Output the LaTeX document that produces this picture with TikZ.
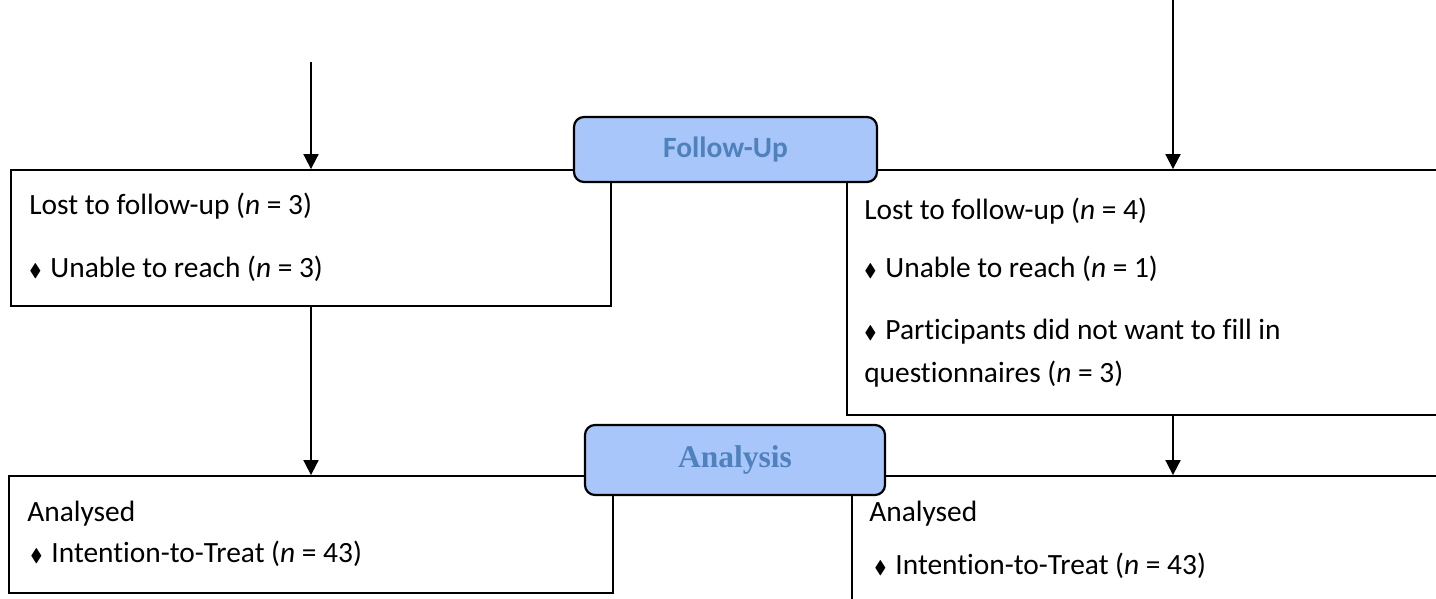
\documentclass[tikz,border=0pt]{standalone}
\usepackage{fontspec}
\usepackage{amssymb}
\setmainfont[Ligatures={NoCommon}]{Carlito}
\newfontfamily\stageserif{Liberation Serif}
\usetikzlibrary{arrows.meta, positioning}

\definecolor{stagefill}{RGB}{168,198,250}
\definecolor{stagetext}{RGB}{79,129,189}
\newcommand{\dmd}{\raisebox{0.5pt}{\scalebox{0.62}{$\blacklozenge$}}\hspace{9pt}}

\tikzset{
    box/.style={draw, line width=1.8pt, rectangle, inner sep=0pt},
    stage/.style={draw, line width=2.2pt, rounded corners=10pt, fill=stagefill, inner sep=0pt, text=stagetext},
    txt/.style={anchor=base west, inner sep=0pt, font=\fontsize{29.4}{35}\selectfont},
    arr/.style={-{Triangle[width=15pt,length=15pt]}, line width=1.8pt}
}

\begin{document}
\begin{tikzpicture}[x=1pt, y=-1pt]
    \clip (0,0) rectangle (1436,599);

    % boxes
    \node[box, minimum width=600pt, minimum height=136pt] (lostL) at (311,238) {};
    \node[box, minimum width=652pt, minimum height=245pt] (lostR) at (1173,292.5) {};
    \node[box, minimum width=604pt, minimum height=117pt] (anaL) at (311,534.5) {};
    \node[box, minimum width=642pt, minimum height=164pt] (anaR) at (1173,558) {};

    % texts
    \node[txt] (lostLa) at ([shift={(19,45)}]lostL.north west) {Lost to follow-up (\textit{n} = 3)};
    \node[txt] (lostLb) at ([shift={(19,108)}]lostL.north west) {\dmd Unable to reach (\textit{n} = 3)};
    \node[txt] (lostRa) at ([shift={(18,50)}]lostR.north west) {Lost to follow-up (\textit{n} = 4)};
    \node[txt] (lostRb) at ([shift={(18,108)}]lostR.north west) {\dmd Unable to reach (\textit{n} = 1)};
    \node[txt] (lostRc) at ([shift={(18,170)}]lostR.north west) {\dmd Participants did not want to fill in};
    \node[txt] (lostRd) at ([shift={(18,213)}]lostR.north west) {questionnaires (\textit{n} = 3)};
    \node[txt] (anaLa) at ([shift={(19,46)}]anaL.north west) {Analysed};
    \node[txt] (anaLb) at ([shift={(22,87)}]anaL.north west) {\dmd Intention-to-Treat (\textit{n} = 43)};
    \node[txt] (anaRa) at ([shift={(18,46)}]anaR.north west) {Analysed};
    \node[txt] (anaRb) at ([shift={(23,99)}]anaR.north west) {\dmd Intention-to-Treat (\textit{n} = 43)};

    % stages
    \node[stage, minimum width=303pt, minimum height=65pt, font=\fontsize{29.4}{35}\selectfont\bfseries] (follow) at (725.5,149.5) {Follow-Up};
    \node[stage, minimum width=300pt, minimum height=70pt, font=\fontsize{31.5}{37}\stageserif\bfseries] (analysis) at (735,460) {Analysis};

    % arrows
    \coordinate (topL) at (311,62);
    \coordinate (topR) at (1173,0);
    \draw[arr] (topL) -- (lostL.north);
    \draw[arr] (topR) -- (lostR.north);
    \draw[arr] (lostL.south) -- (anaL.north);
    \draw[arr] (lostR.south) -- (lostR.south |- anaR.north);
\end{tikzpicture}
\end{document}
